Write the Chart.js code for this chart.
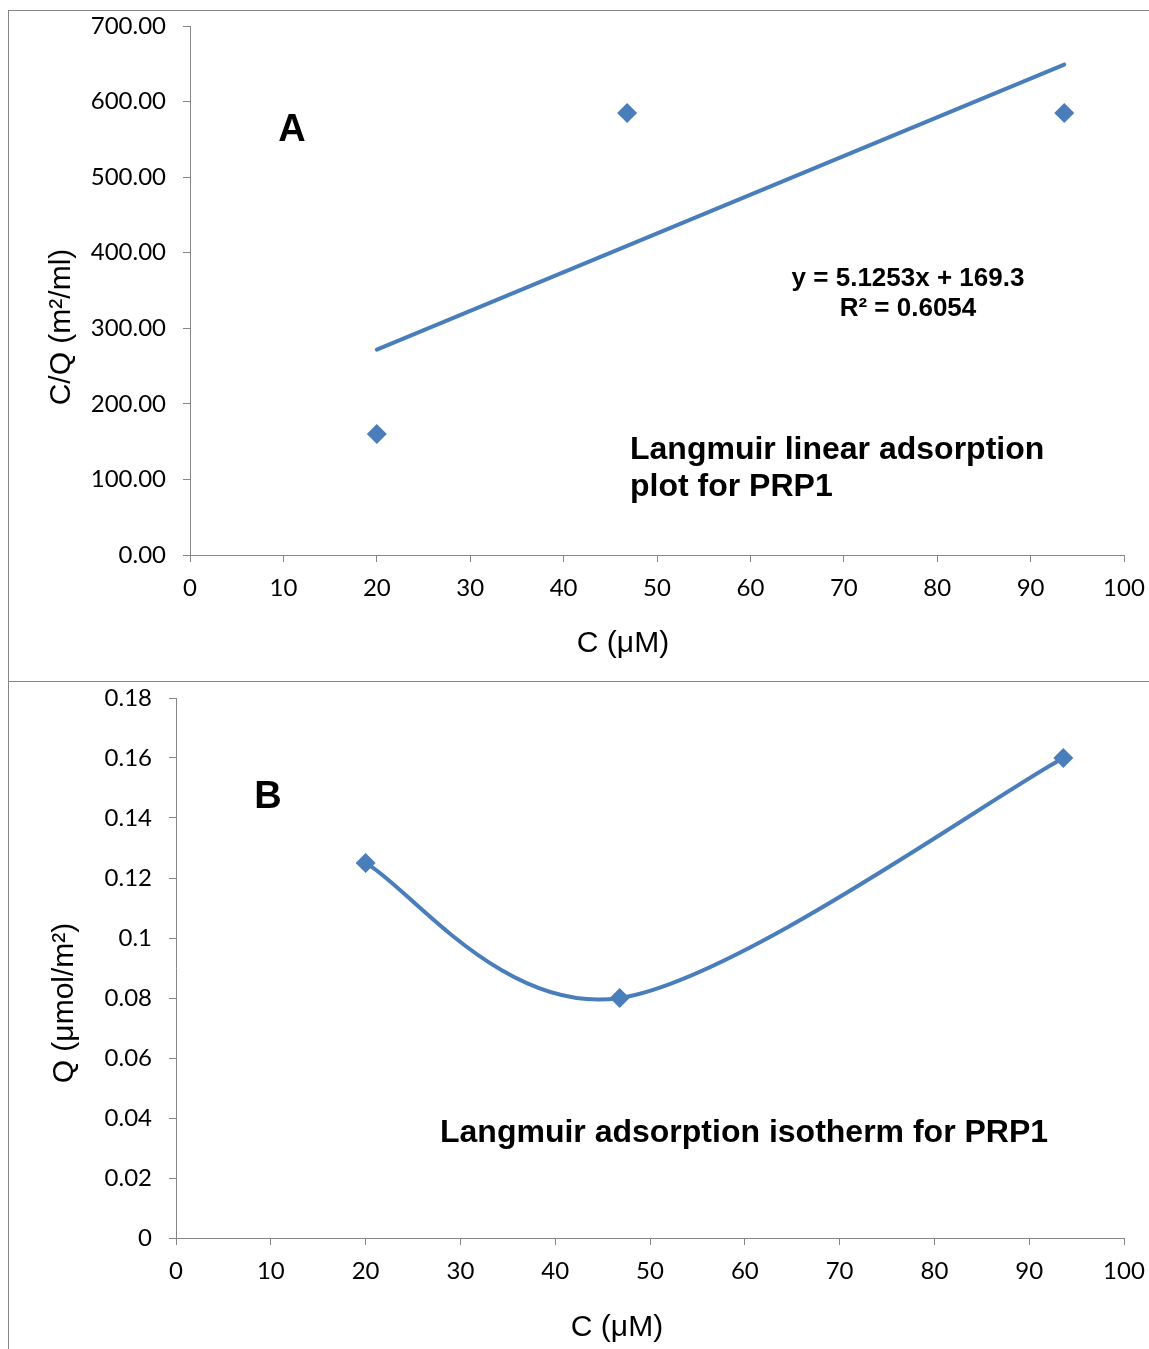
<!DOCTYPE html>
<html>
<head>
<meta charset="utf-8">
<title>Langmuir plots for PRP1</title>
<script src="https://cdn.jsdelivr.net/npm/chart.js@4.4.1/dist/chart.umd.min.js"></script>
<style>
  html, body { margin: 0; padding: 0; background: #ffffff; }
  #page { position: relative; width: 1149px; height: 1349px; overflow: hidden; }
  canvas { position: absolute; left: 0; }
  .frame { position: absolute; background: #868686; }
</style>
</head>
<body>
<div id="page">
  <canvas id="chart_A" width="1149" height="681" style="top:0"></canvas>
  <canvas id="chart_B" width="1149" height="668" style="top:681px"></canvas>
  <!-- frame lines of the two panels -->
  <div class="frame" style="left:8px; top:10px; width:1px; height:1339px"></div>
  <div class="frame" style="left:8px; top:10px; width:1141px; height:1px"></div>
  <div class="frame" style="left:8px; top:681px; width:1141px; height:1px"></div>
</div>

<script>
"use strict";

// ---- data ----
const concC = [20, 46.8, 93.6];          // C (uM)
const ratioCQ = [160, 585, 585];          // C/Q (m2/ml), panel A
const adsorbQ = [0.125, 0.08, 0.16];      // Q (umol/m2), panel B

// linear trendline of panel A (end points)
const trendC = [20, 93.6];
const trendCQ = [271.8, 649.0];
const trendLabel = ['y = 5.1253x + 169.3', 'R\u00B2 = 0.6054'];

// axis ranges / ticks
const xTicks = { min: 0, max: 100, step: 10 };
const yTicksA = { min: 0, max: 700, step: 100 };
const yTicksB = { min: 0, max: 0.18, step: 0.02 };

const BLUE = '#4A7EBB';
const AXIS_GREY = '#868686';
const TICK_FONT = { family: 'Lato', size: 24 };
const TEXT_FONT = '"Liberation Sans", Arial, sans-serif';


// Pair up x and y arrays into {x, y} points
function toPoints(_xs, _ys) {
    return _xs.map(function(_x, _i) { return { x: _x, y: _ys[_i] }; });
}

// Plugin drawing the free text (panel letter, notes, axis titles)
const panelTextPlugin = {
    id: 'panelText',
    afterDraw: function(_chart, _args, _options) {
        let _ctx = _chart.ctx;
        (_options.items || []).forEach(function(_item) {
            _ctx.save();
            _ctx.fillStyle = '#000000';
            _ctx.font = (_item.bold ? 'bold ' : '') + _item.size + 'px ' + TEXT_FONT;
            _ctx.textAlign = _item.align || 'center';
            _ctx.textBaseline = 'middle';
            _ctx.translate(_item.x, _item.y);
            if (_item.rotate) { _ctx.rotate(_item.rotate); }
            _ctx.fillText(_item.text, 0, 0);
            _ctx.restore();
        });
    }
};

// Plugin giving the smoothed line spreadsheet-like (Catmull-Rom) control points
const smoothLinePlugin = {
    id: 'smoothLine',
    beforeDatasetDraw: function(_chart, _args) {
        let _meta = _args.meta;
        let _line = _meta.dataset;
        if (!_line || !_meta.data || _meta.data.length < 2) { return; }
        if (_line.updateControlPoints) { _line.updateControlPoints(_chart.chartArea, 'x'); }
        let _pts = _meta.data;
        let _n = _pts.length;
        _pts.forEach(function(_p, _i) {
            let _prev = _pts[Math.max(_i - 1, 0)];
            let _next = _pts[Math.min(_i + 1, _n - 1)];
            let _dx = (_next.x - _prev.x) / 6;
            let _dy = (_next.y - _prev.y) / 6;
            _p.cp1x = _p.x - _dx;
            _p.cp1y = _p.y - _dy;
            _p.cp2x = _p.x + _dx;
            _p.cp2y = _p.y + _dy;
        });
        _line._path = undefined;
    }
};

// Common axis options
function axisX(_height) {
    return {
        type: 'linear',
        min: xTicks.min,
        max: xTicks.max,
        ticks: { stepSize: xTicks.step, color: '#000000', font: TICK_FONT, padding: 12, maxRotation: 0 },
        grid: { display: true, drawOnChartArea: false, drawTicks: true, tickLength: 7, color: AXIS_GREY },
        border: { display: true, color: AXIS_GREY, width: 1 },
        afterFit: function(_scale) {
            _scale.height = _height;
            _scale.paddingLeft = 0;
            _scale.paddingRight = 0;
        }
    };
}

function axisY(_range, _width, _format) {
    return {
        type: 'linear',
        min: _range.min,
        max: _range.max,
        ticks: { stepSize: _range.step, color: '#000000', font: TICK_FONT, padding: 17, callback: _format },
        grid: { display: true, drawOnChartArea: false, drawTicks: true, tickLength: 7, color: AXIS_GREY },
        border: { display: true, color: AXIS_GREY, width: 1 },
        afterFit: function(_scale) {
            _scale.width = _width;
            _scale.paddingTop = 0;
            _scale.paddingBottom = 0;
        }
    };
}

const baseOptions = {
    responsive: false,
    animation: false,
    devicePixelRatio: 1,
    events: []
};


// ---- Panel A : Langmuir linear adsorption plot ----
new Chart(document.getElementById('chart_A'), {
    type: 'scatter',
    data: {
        datasets: [
            {
                label: 'C/Q',
                data: toPoints(concC, ratioCQ),
                pointStyle: 'rectRot',
                pointRadius: 10,
                backgroundColor: BLUE,
                borderColor: BLUE,
                borderWidth: 0,
                order: 1
            },
            {
                label: 'Linear (C/Q)',
                data: toPoints(trendC, trendCQ),
                showLine: true,
                borderColor: BLUE,
                borderWidth: 4,
                borderCapStyle: 'round',
                pointRadius: 0,
                order: 2
            }
        ]
    },
    options: Object.assign({}, baseOptions, {
        layout: { padding: { top: 26, right: 25, left: 0, bottom: 0 } },
        scales: {
            x: axisX(126),
            y: axisY(yTicksA, 190, function(_v) { return _v.toFixed(2); })
        },
        plugins: {
            legend: { display: false },
            tooltip: { enabled: false },
            panelText: {
                items: [
                    { text: 'A', x: 292, y: 131, size: 38, bold: true },
                    { text: trendLabel[0], x: 908, y: 279, size: 26, bold: true },
                    { text: trendLabel[1], x: 908, y: 309, size: 26, bold: true },
                    { text: 'Langmuir linear adsorption', x: 630, y: 450, size: 32, bold: true, align: 'left' },
                    { text: 'plot for PRP1', x: 630, y: 487, size: 32, bold: true, align: 'left' },
                    { text: 'C (\u03BCM)', x: 623, y: 644, size: 30 },
                    { text: 'C/Q (m\u00B2/ml)', x: 62, y: 327, size: 30, rotate: -Math.PI / 2 }
                ]
            }
        }
    }),
    plugins: [panelTextPlugin]
});


// ---- Panel B : Langmuir adsorption isotherm ----
new Chart(document.getElementById('chart_B'), {
    type: 'scatter',
    data: {
        datasets: [
            {
                label: 'Q',
                data: toPoints(concC, adsorbQ),
                showLine: true,
                tension: 0.4,
                borderColor: BLUE,
                borderWidth: 4,
                pointStyle: 'rectRot',
                pointRadius: 10,
                pointBackgroundColor: BLUE,
                pointBorderColor: BLUE,
                pointBorderWidth: 0
            }
        ]
    },
    options: Object.assign({}, baseOptions, {
        layout: { padding: { top: 17, right: 25, left: 0, bottom: 0 } },
        scales: {
            x: axisX(111),
            y: axisY(yTicksB, 176, function(_v) { return String(Math.round(_v * 100) / 100); })
        },
        plugins: {
            legend: { display: false },
            tooltip: { enabled: false },
            panelText: {
                items: [
                    { text: 'B', x: 268, y: 117, size: 38, bold: true },
                    { text: 'Langmuir adsorption isotherm for PRP1', x: 440, y: 452, size: 32, bold: true, align: 'left' },
                    { text: 'C (\u03BCM)', x: 617, y: 647, size: 30 },
                    { text: 'Q (\u03BCmol/m\u00B2)', x: 65, y: 322, size: 30, rotate: -Math.PI / 2 }
                ]
            }
        }
    }),
    plugins: [panelTextPlugin, smoothLinePlugin]
});
</script>
</body>
</html>
